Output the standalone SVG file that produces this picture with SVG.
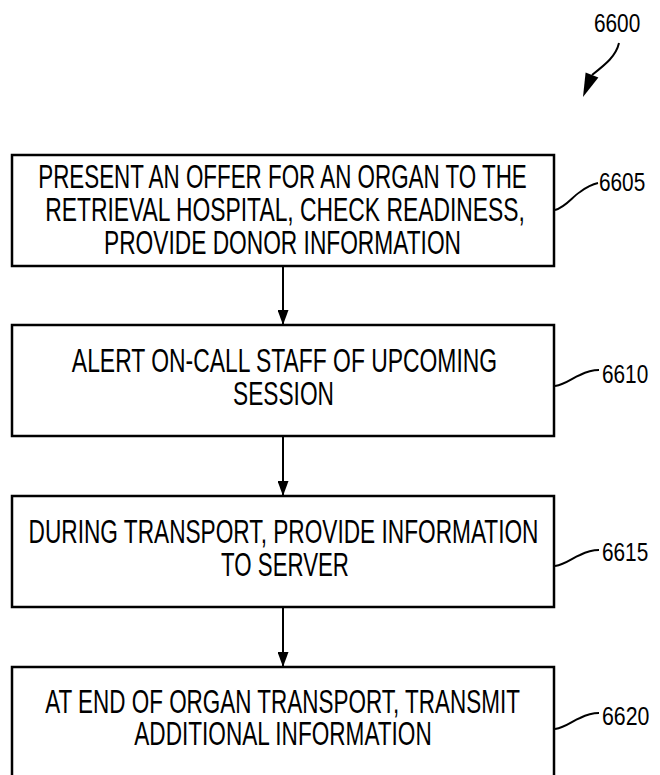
<svg xmlns="http://www.w3.org/2000/svg" width="660" height="775" viewBox="0 0 660 775">
<style>
.box{fill:#fff;stroke:#000;stroke-width:2.5}
.t{font-family:"Liberation Sans",Arial,sans-serif;font-size:33px;fill:#000;text-anchor:middle}
.lbl{font-family:"Liberation Sans",Arial,sans-serif;font-size:26px;fill:#000}
.conn{fill:none;stroke:#000;stroke-width:2}
.lead{fill:none;stroke:#000;stroke-width:2}
</style>
<defs>
<marker id="ah" viewBox="0 0 15 11" refX="15" refY="5.5" markerWidth="15" markerHeight="11" markerUnits="userSpaceOnUse" orient="auto">
<path d="M0,0 L15,5.5 L0,11 z" fill="#000"/>
</marker>
</defs>
<rect width="660" height="775" fill="#fff"/>
<g id="ref6600">
<text class="lbl" transform="translate(594,32) scale(0.8,1)">6600</text>
<path class="lead" d="M619,43 C616,56 606,64 592,75"/>
<polygon points="583,97 585.6,72.4 598.4,77.6" fill="#000"/>
</g>
<g id="n6605">
<rect class="box" x="12" y="155" width="542" height="111"/>
<text class="t" transform="translate(282.5,188) scale(0.679,1)">PRESENT AN OFFER FOR AN ORGAN TO THE</text>
<text class="t" transform="translate(285,221) scale(0.693,1)">RETRIEVAL HOSPITAL, CHECK READINESS,</text>
<text class="t" transform="translate(282.5,254) scale(0.689,1)">PROVIDE DONOR INFORMATION</text>
<path class="lead" d="M555,210 C566,207 572,197 580,192 C588,186 593,184 598,183"/>
<text class="lbl" transform="translate(599,191) scale(0.8,1)">6605</text>
</g>
<g id="n6610">
<rect class="box" x="12" y="325" width="542" height="111"/>
<text class="t" transform="translate(284.5,372) scale(0.694,1)">ALERT ON-CALL STAFF OF UPCOMING</text>
<text class="t" transform="translate(283.5,405) scale(0.688,1)">SESSION</text>
<path class="lead" d="M555,386 C566,384 572,378 580,375 C588,371 593,370 599,370"/>
<text class="lbl" transform="translate(602,383) scale(0.8,1)">6610</text>
</g>
<g id="n6615">
<rect class="box" x="12" y="496" width="542" height="111"/>
<text class="t" transform="translate(283.5,543) scale(0.687,1)">DURING TRANSPORT, PROVIDE INFORMATION</text>
<text class="t" transform="translate(285,576) scale(0.675,1)">TO SERVER</text>
<path class="lead" d="M555,566 C566,564 572,558 580,555 C588,551 593,550 599,550"/>
<text class="lbl" transform="translate(602,561) scale(0.8,1)">6615</text>
</g>
<g id="n6620">
<rect class="box" x="12" y="667" width="542" height="115"/>
<text class="t" transform="translate(282.5,713) scale(0.681,1)">AT END OF ORGAN TRANSPORT, TRANSMIT</text>
<text class="t" transform="translate(283,745) scale(0.685,1)">ADDITIONAL INFORMATION</text>
<path class="lead" d="M555,729 C566,727 572,721 580,718 C588,714 593,713 599,713"/>
<text class="lbl" transform="translate(602,725) scale(0.82,1)">6620</text>
</g>
<g id="connectors">
<line class="conn" x1="283" y1="266" x2="283" y2="325" marker-end="url(#ah)"/>
<line class="conn" x1="283" y1="436" x2="283" y2="496" marker-end="url(#ah)"/>
<line class="conn" x1="283" y1="607" x2="283" y2="667" marker-end="url(#ah)"/>
</g>
</svg>
